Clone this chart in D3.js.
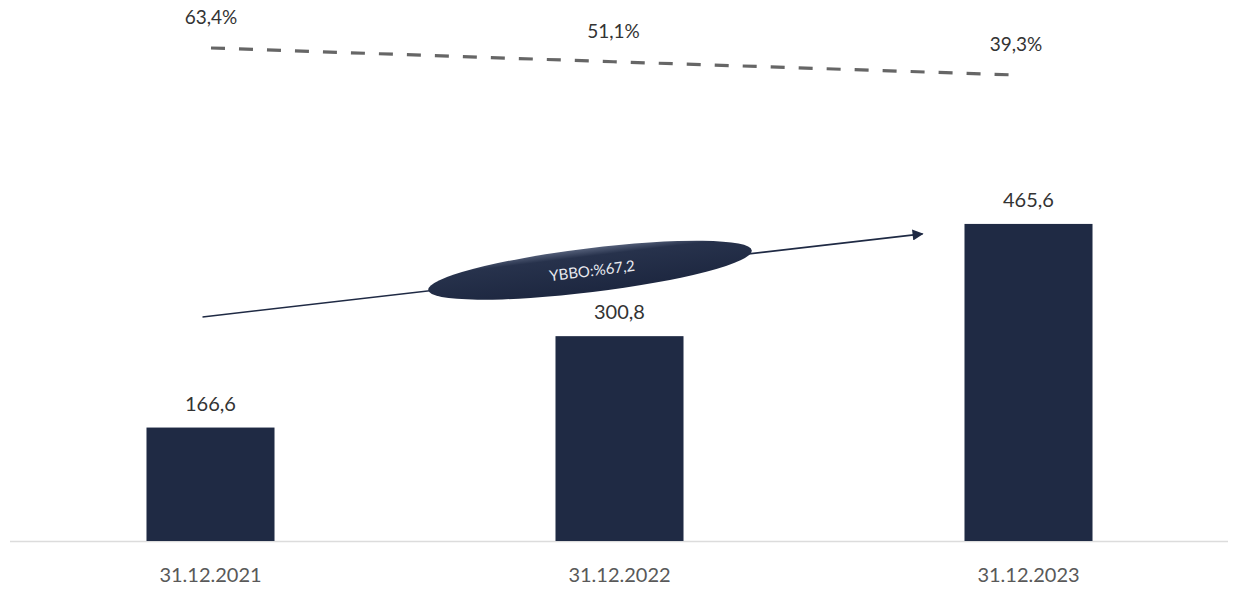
<!DOCTYPE html>
<html>
<head>
<meta charset="utf-8">
<script src="https://cdn.jsdelivr.net/npm/d3@7"></script>
<style>
  html, body { margin: 0; padding: 0; background: #ffffff; }
  svg { display: block; }
</style>
</head>
<body>
<svg id="chart" width="1235" height="591"></svg>
<script>
// Data
const categories = ["31.12.2021", "31.12.2022", "31.12.2023"];
const amounts = [166.6, 300.8, 465.6];
const amountLabels = ["166,6", "300,8", "465,6"];
const shares = [63.4, 51.1, 39.3];
const shareLabels = ["63,4%", "51,1%", "39,3%"];
const growthLabel = "YBBO:%67,2";

const W = 1235, H = 591;
const svg = d3.select("#chart");

const navy = "#1f2a44";
const font = "Lato, 'Open Sans', sans-serif";

// Scales
const x = d3.scaleBand()
  .domain(categories)
  .range([6, 1233])
  .paddingInner(0.687)
  .paddingOuter(0.3435);

const y = d3.scaleLinear().domain([0, 500]).range([541, 200.5]);

// Secondary series (share, %) on its own scales
const xShare = d3.scalePoint().domain(categories).range([211, 1016]);
const yShare = d3.scaleLinear().domain([0, 100]).range([119, 7]);

// Baseline axis
const axis = svg.append("g")
  .attr("transform", `translate(0,${y(0)})`)
  .call(d3.axisBottom(x).tickSize(0).tickPadding(0));
axis.select(".domain")
  .attr("d", "M10,0.5H1228")
  .attr("stroke", "#dcdcdc")
  .attr("stroke-width", 1.5);
axis.selectAll(".tick text")
  .attr("y", 41)
  .attr("dy", null)
  .attr("fill", "#595959")
  .style("font-family", font)
  .style("font-size", "20px");

// Bars
svg.append("g").selectAll("rect")
  .data(amounts)
  .join("rect")
  .attr("x", (d, i) => x(categories[i]))
  .attr("y", d => y(d))
  .attr("width", x.bandwidth())
  .attr("height", d => y(0) - y(d))
  .attr("fill", navy);

// Bar value labels
svg.append("g").selectAll("text")
  .data(amounts)
  .join("text")
  .attr("x", (d, i) => x(categories[i]) + x.bandwidth() / 2)
  .attr("y", d => y(d) - 17)
  .attr("text-anchor", "middle")
  .attr("fill", "#333333")
  .style("font-family", font)
  .style("font-size", "20px")
  .text((d, i) => amountLabels[i]);

// Dashed share line
const line = d3.line()
  .x((d, i) => xShare(categories[i]))
  .y(d => yShare(d));
svg.append("path")
  .datum(shares)
  .attr("d", line)
  .attr("fill", "none")
  .attr("stroke", "#666666")
  .attr("stroke-width", 3.2)
  .attr("stroke-dasharray", "14,14");

svg.append("g").selectAll("text")
  .data(shares)
  .join("text")
  .attr("x", (d, i) => xShare(categories[i]))
  .attr("y", d => yShare(d) - 24)
  .attr("text-anchor", "middle")
  .attr("fill", "#333333")
  .style("font-family", font)
  .style("font-size", "19px")
  .text((d, i) => shareLabels[i]);

// Growth arrow with oval badge
const defs = svg.append("defs");
defs.append("marker")
  .attr("id", "arrowHead")
  .attr("viewBox", "0 0 10 10")
  .attr("refX", 9)
  .attr("refY", 5)
  .attr("markerWidth", 12)
  .attr("markerHeight", 11)
  .attr("markerUnits", "userSpaceOnUse")
  .attr("orient", "auto")
  .append("path")
  .attr("d", "M0,0L10,5L0,10Z")
  .attr("fill", navy);

const grad = defs.append("linearGradient")
  .attr("id", "ovalFill")
  .attr("x1", 0).attr("y1", 0).attr("x2", 0).attr("y2", 1);
grad.append("stop").attr("offset", "0%").attr("stop-color", "#55607a");
grad.append("stop").attr("offset", "18%").attr("stop-color", "#27324c");
grad.append("stop").attr("offset", "100%").attr("stop-color", "#1d2740");

const x0 = x(categories[0]) + x.bandwidth() / 2 - 8;
const y0 = y(329);
const x1 = x(categories[2]) - 42;
const y1 = y(451);

svg.append("line")
  .attr("x1", x0).attr("y1", y0)
  .attr("x2", x1).attr("y2", y1)
  .attr("stroke", navy)
  .attr("stroke-width", 1.6)
  .attr("marker-end", "url(#arrowHead)");

const cx = 590, cy = y0 + (y1 - y0) * (cx - x0) / (x1 - x0) - 2;
const angle = Math.atan2(y1 - y0, x1 - x0) * 180 / Math.PI - 0.4;
const badge = svg.append("g")
  .attr("transform", `translate(${cx},${cy}) rotate(${angle})`);
badge.append("ellipse")
  .attr("rx", 163)
  .attr("ry", 22)
  .attr("fill", "url(#ovalFill)");
badge.append("text")
  .attr("x", 2)
  .attr("y", 6)
  .attr("text-anchor", "middle")
  .attr("fill", "#e8eaf0")
  .style("font-family", font)
  .style("font-size", "15px")
  .text(growthLabel);
</script>
</body>
</html>
